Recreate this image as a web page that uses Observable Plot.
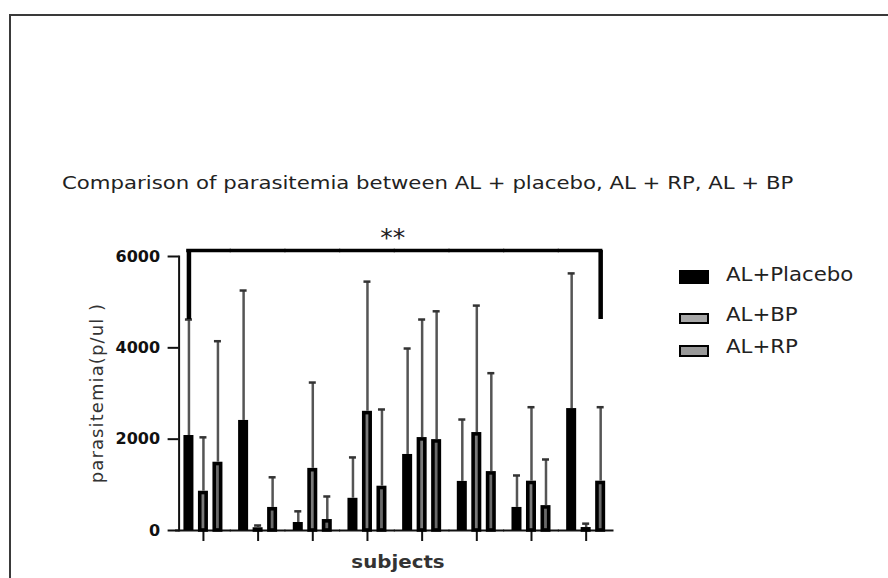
<!DOCTYPE html>
<html><head><meta charset="utf-8">
<script src="https://cdn.jsdelivr.net/npm/d3@7"></script>
<script src="https://cdn.jsdelivr.net/npm/@observablehq/plot@0.6"></script>
<style>
body{margin:0;width:888px;height:578px;overflow:hidden;background:#fff;position:relative;font-family:"DejaVu Sans",sans-serif}
#frame{position:absolute;left:9px;top:14px;width:1000px;height:1000px;border:2px solid #3a3a3a;box-sizing:border-box}
#chart{position:absolute;left:0;top:0}
.t{position:absolute;white-space:nowrap;color:#222;line-height:1}
#title{left:62px;top:174px;font-size:18px;transform:scaleX(1.18);transform-origin:left center}
#ylab{left:97px;top:393px;font-size:18px;letter-spacing:1.1px;color:#333;transform:translate(-50%,-50%) rotate(-90deg)}
#xlab{left:398px;top:553px;font-size:18px;font-weight:bold;color:#333;transform:translateX(-50%) scaleX(1.1)}
#legend{position:absolute;left:679px;top:262px}
.li{position:absolute;left:0;white-space:nowrap;height:20px}
.sw{position:absolute;left:0;width:30px;box-sizing:border-box}
.lt{position:absolute;left:47px;font-size:19px;color:#222;line-height:1;transform:scaleX(1.12);transform-origin:left center}
#chart svg [aria-label="y-axis tick label"] text{font-weight:bold}
</style></head><body>
<div id="frame"></div>
<div id="chart"></div>
<div class="t" id="title">Comparison of parasitemia between AL + placebo, AL + RP, AL + BP</div>
<div class="t" id="ylab">parasitemia(p/ul )</div>
<div class="t" id="xlab">subjects</div>
<div id="legend"></div>
<script>
// ---- data ----
const subjects = ["1", "2", "3", "4", "5", "6", "7", "8"];
const series = ["AL+Placebo", "AL+BP", "AL+RP"];
const placeboMean = [2080, 2410, 175, 705, 1665, 1075, 505, 2670];
const placeboSD   = [2540, 2845, 245, 895, 2320, 1355, 700, 2960];
const bpMean      = [860, 60, 1360, 2610, 2035, 2145, 1080, 65];
const bpSD        = [1180, 50, 1880, 2840, 2585, 2780, 1620, 85];
const rpMean      = [1495, 505, 240, 970, 1990, 1290, 545, 1080];
const rpSD        = [2650, 660, 505, 1680, 2810, 2155, 1010, 1620];
const yTicks = [0, 2000, 4000, 6000];
const bracketTop = 6130;
const bracketEnds = [4620, 4620];
const sigLabel = "**";
const seriesFill = ["#000000", "#7a7a7a", "#6a6a6a"];
const legendFill = ["#000000", "#a8a8a8", "#999999"];

// ---- table ----
const means = [placeboMean, bpMean, rpMean];
const sds = [placeboSD, bpSD, rpSD];
const rows = [];
subjects.forEach((s, i) => series.forEach((k, j) => rows.push({subject: s, series: k, value: means[j][i], sd: sds[j][i]})));

const W = 888, H = 578;
const first = subjects[0], last = subjects[subjects.length - 1];
const chart = Plot.plot({
  width: W, height: H,
  marginLeft: 175.6, marginRight: W - 613, marginTop: 256, marginBottom: H - 530,
  style: {fontFamily: "DejaVu Sans", background: "transparent", overflow: "visible", color: "#111"},
  fx: {domain: subjects, padding: 0, round: false, axis: null, label: null},
  x: {domain: series, paddingInner: 0.31, paddingOuter: 0.54, round: false, axis: null},
  y: {domain: [0, 6000], axis: null},
  color: {domain: series, range: seriesFill},
  marks: [
    Plot.axisY({ticks: yTicks, tickSize: 11, tickPadding: 8, tickFormat: d3.format("d"), fontSize: 16, label: null, strokeWidth: 2, dx: 3, facetAnchor: "left"}),
    Plot.axisFx({anchor: "bottom", tickSize: 11, fill: "none", label: null, strokeWidth: 2}),
    Plot.frame({anchor: "left", facetAnchor: "left", strokeWidth: 2, dx: 3}),
    Plot.ruleY([0], {strokeWidth: 2, insetLeft: -0.5, insetRight: -0.5}),
    // bars
    Plot.barY(rows.filter(d => d.series === series[0]), {fx: "subject", x: "series", y: "value", fill: "series"}),
    Plot.barY(rows.filter(d => d.series !== series[0]), {fx: "subject", x: "series", y: "value", fill: "series", stroke: "#000", strokeWidth: 3.6, insetLeft: 1.8, insetRight: 1.8, insetTop: 1.8}),
    // error bars
    Plot.ruleX(rows, {fx: "subject", x: "series", y1: "value", y2: d => d.value + d.sd, stroke: "#555", strokeWidth: 2.5}),
    Plot.tickY(rows, {fx: "subject", x: "series", y: d => d.value + d.sd, stroke: "#333", strokeWidth: 2.5, insetLeft: 1.5, insetRight: 1.5}),
    // significance bracket
    Plot.ruleX([{subject: first, series: series[0], y: bracketEnds[0]}], {fx: "subject", x: "series", y1: "y", y2: () => bracketTop, strokeWidth: 4.5, stroke: "#000"}),
    Plot.ruleX([{subject: last, series: series[2], y: bracketEnds[1]}], {fx: "subject", x: "series", y1: "y", y2: () => bracketTop, strokeWidth: 4.5, stroke: "#000"}),
    Plot.ruleY(subjects.slice(1, -1).map(s => ({subject: s})), {fx: "subject", y: () => bracketTop, strokeWidth: 3.5, stroke: "#000", insetLeft: -0.6, insetRight: -0.6}),
    Plot.ruleY([{subject: first}], {fx: "subject", y: () => bracketTop, strokeWidth: 3.5, stroke: "#000", insetLeft: 10.6, insetRight: -0.6}),
    Plot.ruleY([{subject: last}], {fx: "subject", y: () => bracketTop, strokeWidth: 3.5, stroke: "#000", insetRight: 10.6, insetLeft: -0.6}),
    Plot.text([{subject: subjects[3]}], {fx: "subject", frameAnchor: "right", textAnchor: "middle", dx: -2, y: () => 6400, text: () => sigLabel, fontSize: 25, fill: "#222"})
  ]
});
document.getElementById("chart").appendChild(chart);

// legend
const legendTops = [3, 43, 75];
const swH = [14, 11, 12];
const swOff = [12, 13, 13.5];
const leg = document.getElementById("legend");
series.forEach((s, i) => {
  const it = document.createElement("div");
  it.className = "li";
  it.style.top = legendTops[i] + "px";
  const sw = document.createElement("div");
  sw.className = "sw";
  sw.style.height = swH[i] + "px";
  sw.style.top = (swOff[i] - swH[i] / 2) + "px";
  sw.style.background = legendFill[i];
  if (i > 0) sw.style.border = "2.5px solid #000";
  const tx = document.createElement("div");
  tx.className = "lt";
  tx.style.top = "0px";
  tx.textContent = s;
  it.appendChild(sw); it.appendChild(tx);
  leg.appendChild(it);
});
</script>
</body></html>
